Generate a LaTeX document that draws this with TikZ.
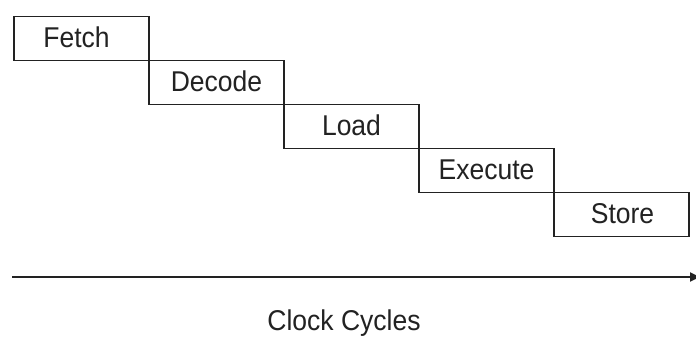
\documentclass[tikz,border=0pt]{standalone}
\usepackage{fontspec}
\setmainfont{Liberation Sans}
\usetikzlibrary{arrows.meta}
\definecolor{ink}{HTML}{222222}
\newcommand{\tallfont}{\fontsize{26.5}{28}\selectfont}
\begin{document}
\begin{tikzpicture}[x=1pt,y=-1pt,
  stage/.style={draw=ink, line width=1.5pt, rectangle, minimum width=135pt,
    minimum height=44pt, inner sep=0pt},
  word/.style={text=ink, inner sep=0pt, yscale=1.08, font=\tallfont},
  axis/.style={draw=ink, line width=1.8pt, -{Latex[length=12pt,width=10pt]}}]
\useasboundingbox (0,0) rectangle (696,338);
\fill[white] (0,0) rectangle (696,338);
% staircase of pipeline stages
\node[stage] (fetch)   at (81.5,38.5)  {};
\node[stage] (decode)  at (216.5,82.5) {};
\node[stage] (load)    at (351.5,126.5) {};
\node[stage] (execute) at (486.5,170.5) {};
\node[stage] (store)   at (621.5,214.5) {};
% stage labels
\node[word] (fetchlbl)   at ([xshift=-5pt,yshift=1pt]fetch.center)  {Fetch};
\node[word] (decodelbl)  at ([yshift=1pt]decode.center)  {Decode};
\node[word] (loadlbl)    at ([yshift=1pt]load.center)    {Load};
\node[word] (executelbl) at ([yshift=1pt]execute.center) {Execute};
\node[word] (storelbl)   at ([xshift=1pt,yshift=1pt]store.center) {Store};
% time axis
\coordinate (t0) at (12,277);
\coordinate (t1) at (702,277);
\draw[axis] (t0) -- (t1);
\node[word] (clk) at (344,323) {Clock Cycles};
\end{tikzpicture}
\end{document}
